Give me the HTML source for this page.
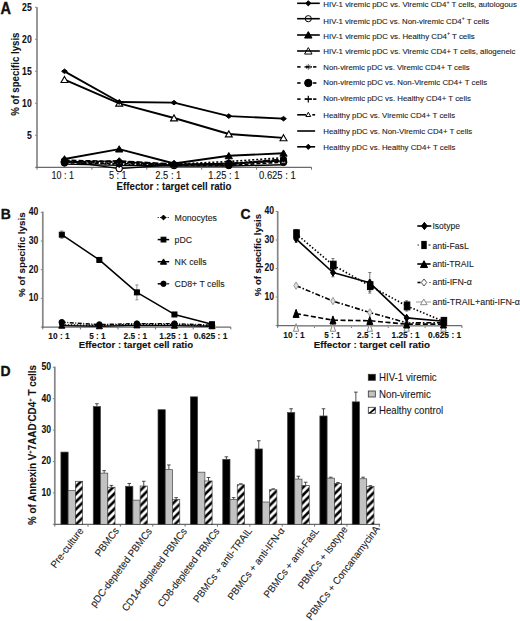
<!DOCTYPE html>
<html><head><meta charset="utf-8"><style>
html,body{margin:0;padding:0;background:#fff;}
svg{display:block;font-family:"Liberation Sans", sans-serif;}
</style></head><body>
<svg width="520" height="621" viewBox="0 0 520 621">
<rect width="520" height="621" fill="#fff"/>
<text transform="translate(0.60,13.60) scale(0.9300,1)" font-size="15.6" font-weight="bold" text-anchor="start" fill="#111" stroke="#111" stroke-width="0.35">A</text>
<line x1="37.00" y1="7.20" x2="37.00" y2="167.90" stroke="#868686" stroke-width="1.7" stroke-linecap="butt"/>
<line x1="35.00" y1="167.30" x2="37.00" y2="167.30" stroke="#868686" stroke-width="1" stroke-linecap="butt"/>
<line x1="35.00" y1="135.30" x2="37.00" y2="135.30" stroke="#868686" stroke-width="1" stroke-linecap="butt"/>
<line x1="35.00" y1="103.30" x2="37.00" y2="103.30" stroke="#868686" stroke-width="1" stroke-linecap="butt"/>
<line x1="35.00" y1="71.30" x2="37.00" y2="71.30" stroke="#868686" stroke-width="1" stroke-linecap="butt"/>
<line x1="35.00" y1="39.30" x2="37.00" y2="39.30" stroke="#868686" stroke-width="1" stroke-linecap="butt"/>
<line x1="35.00" y1="7.30" x2="37.00" y2="7.30" stroke="#868686" stroke-width="1" stroke-linecap="butt"/>
<text transform="translate(31.70,138.70) scale(0.8150,1)" font-size="10.6" font-weight="bold" text-anchor="end" fill="#111" stroke="#111" stroke-width="0.1">5</text>
<text transform="translate(31.70,106.70) scale(0.8150,1)" font-size="10.6" font-weight="bold" text-anchor="end" fill="#111" stroke="#111" stroke-width="0.1">10</text>
<text transform="translate(31.70,74.70) scale(0.8150,1)" font-size="10.6" font-weight="bold" text-anchor="end" fill="#111" stroke="#111" stroke-width="0.1">15</text>
<text transform="translate(31.70,42.70) scale(0.8150,1)" font-size="10.6" font-weight="bold" text-anchor="end" fill="#111" stroke="#111" stroke-width="0.1">20</text>
<text transform="translate(31.70,10.70) scale(0.8150,1)" font-size="10.6" font-weight="bold" text-anchor="end" fill="#111" stroke="#111" stroke-width="0.1">25</text>
<line x1="36.20" y1="167.30" x2="311.50" y2="167.30" stroke="#6a6a6a" stroke-width="1.3" stroke-linecap="butt"/>
<line x1="37.00" y1="167.30" x2="37.00" y2="169.60" stroke="#6a6a6a" stroke-width="1" stroke-linecap="butt"/>
<line x1="91.90" y1="167.30" x2="91.90" y2="169.60" stroke="#6a6a6a" stroke-width="1" stroke-linecap="butt"/>
<line x1="146.80" y1="167.30" x2="146.80" y2="169.60" stroke="#6a6a6a" stroke-width="1" stroke-linecap="butt"/>
<line x1="201.70" y1="167.30" x2="201.70" y2="169.60" stroke="#6a6a6a" stroke-width="1" stroke-linecap="butt"/>
<line x1="256.60" y1="167.30" x2="256.60" y2="169.60" stroke="#6a6a6a" stroke-width="1" stroke-linecap="butt"/>
<line x1="311.50" y1="167.30" x2="311.50" y2="169.60" stroke="#6a6a6a" stroke-width="1" stroke-linecap="butt"/>
<text transform="translate(62.85,178.60) scale(0.8648,1)" font-size="10.4" text-anchor="middle" fill="#111" stroke="#111" stroke-width="0.1">10 : 1</text>
<text transform="translate(117.85,178.60) scale(0.8698,1)" font-size="10.4" text-anchor="middle" fill="#111" stroke="#111" stroke-width="0.1">5 : 1</text>
<text transform="translate(168.30,178.60) scale(0.8994,1)" font-size="10.4" text-anchor="middle" fill="#111" stroke="#111" stroke-width="0.1">2.5 : 1</text>
<text transform="translate(223.80,178.60) scale(0.8936,1)" font-size="10.4" text-anchor="middle" fill="#111" stroke="#111" stroke-width="0.1">1.25 : 1</text>
<text transform="translate(277.35,178.60) scale(0.9068,1)" font-size="10.4" text-anchor="middle" fill="#111" stroke="#111" stroke-width="0.1">0.625 : 1</text>
<text transform="translate(116.60,190.10) scale(0.9167,1)" font-size="10.6" font-weight="bold" text-anchor="start" fill="#111" stroke="#111" stroke-width="0.1">Effector : target cell ratio</text>
<text transform="translate(18.60,115.80) rotate(-90) scale(0.9389,1)" font-size="10.3" font-weight="bold" text-anchor="start" fill="#111" stroke="#111" stroke-width="0.1">% of specific lysis</text>
<polyline points="64.50,160.90 119.20,168.58 174.00,164.74 228.80,163.46 283.50,160.90" fill="none" stroke="#000" stroke-width="1.4" stroke-linejoin="round"/>
<circle cx="64.50" cy="160.90" r="3.1" fill="#fff" stroke="#000" stroke-width="1.1"/>
<circle cx="119.20" cy="168.58" r="3.1" fill="#fff" stroke="#000" stroke-width="1.1"/>
<circle cx="174.00" cy="164.74" r="3.1" fill="#fff" stroke="#000" stroke-width="1.1"/>
<circle cx="228.80" cy="163.46" r="3.1" fill="#fff" stroke="#000" stroke-width="1.1"/>
<circle cx="283.50" cy="160.90" r="3.1" fill="#fff" stroke="#000" stroke-width="1.1"/>
<polyline points="64.50,161.54 119.20,162.18 174.00,164.74 228.80,163.46 283.50,159.62" fill="none" stroke="#000" stroke-width="1.6" stroke-dasharray="3,1.5" stroke-linejoin="round"/>
<g stroke="#333" stroke-width="1.2"><line x1="61.50" y1="161.54" x2="67.50" y2="161.54"/><line x1="64.50" y1="158.54" x2="64.50" y2="164.54"/><line x1="62.40" y1="159.44" x2="66.60" y2="163.64"/><line x1="62.40" y1="163.64" x2="66.60" y2="159.44"/></g>
<g stroke="#333" stroke-width="1.2"><line x1="116.20" y1="162.18" x2="122.20" y2="162.18"/><line x1="119.20" y1="159.18" x2="119.20" y2="165.18"/><line x1="117.10" y1="160.08" x2="121.30" y2="164.28"/><line x1="117.10" y1="164.28" x2="121.30" y2="160.08"/></g>
<g stroke="#333" stroke-width="1.2"><line x1="171.00" y1="164.74" x2="177.00" y2="164.74"/><line x1="174.00" y1="161.74" x2="174.00" y2="167.74"/><line x1="171.90" y1="162.64" x2="176.10" y2="166.84"/><line x1="171.90" y1="166.84" x2="176.10" y2="162.64"/></g>
<g stroke="#333" stroke-width="1.2"><line x1="225.80" y1="163.46" x2="231.80" y2="163.46"/><line x1="228.80" y1="160.46" x2="228.80" y2="166.46"/><line x1="226.70" y1="161.36" x2="230.90" y2="165.56"/><line x1="226.70" y1="165.56" x2="230.90" y2="161.36"/></g>
<g stroke="#333" stroke-width="1.2"><line x1="280.50" y1="159.62" x2="286.50" y2="159.62"/><line x1="283.50" y1="156.62" x2="283.50" y2="162.62"/><line x1="281.40" y1="157.52" x2="285.60" y2="161.72"/><line x1="281.40" y1="161.72" x2="285.60" y2="157.52"/></g>
<polyline points="64.50,162.82 119.20,163.46 174.00,165.38 228.80,165.38 283.50,162.18" fill="none" stroke="#000" stroke-width="1.6" stroke-dasharray="4,2" stroke-linejoin="round"/>
<circle cx="64.50" cy="162.82" r="3.4" fill="#000" stroke="#000" stroke-width="1.0"/>
<circle cx="119.20" cy="163.46" r="3.4" fill="#000" stroke="#000" stroke-width="1.0"/>
<circle cx="174.00" cy="165.38" r="3.4" fill="#000" stroke="#000" stroke-width="1.0"/>
<circle cx="228.80" cy="165.38" r="3.4" fill="#000" stroke="#000" stroke-width="1.0"/>
<circle cx="283.50" cy="162.18" r="3.4" fill="#000" stroke="#000" stroke-width="1.0"/>
<polyline points="64.50,160.90 119.20,164.74 174.00,164.10 228.80,161.54 283.50,157.70" fill="none" stroke="#000" stroke-width="1.6" stroke-dasharray="2,2" stroke-linejoin="round"/>
<g stroke="#000" stroke-width="1.3"><line x1="61.50" y1="160.90" x2="67.50" y2="160.90"/><line x1="64.50" y1="157.90" x2="64.50" y2="163.90"/></g>
<g stroke="#000" stroke-width="1.3"><line x1="116.20" y1="164.74" x2="122.20" y2="164.74"/><line x1="119.20" y1="161.74" x2="119.20" y2="167.74"/></g>
<g stroke="#000" stroke-width="1.3"><line x1="171.00" y1="164.10" x2="177.00" y2="164.10"/><line x1="174.00" y1="161.10" x2="174.00" y2="167.10"/></g>
<g stroke="#000" stroke-width="1.3"><line x1="225.80" y1="161.54" x2="231.80" y2="161.54"/><line x1="228.80" y1="158.54" x2="228.80" y2="164.54"/></g>
<g stroke="#000" stroke-width="1.3"><line x1="280.50" y1="157.70" x2="286.50" y2="157.70"/><line x1="283.50" y1="154.70" x2="283.50" y2="160.70"/></g>
<polyline points="64.50,160.26 119.20,161.54 174.00,165.38 228.80,163.46 283.50,160.90" fill="none" stroke="#000" stroke-width="1.6" stroke-dasharray="5,2" stroke-linejoin="round"/>
<polygon points="64.50,157.76 67.25,162.51 61.75,162.51" fill="#fff" stroke="#000" stroke-width="1" stroke-linejoin="miter"/>
<polygon points="119.20,159.04 121.95,163.79 116.45,163.79" fill="#fff" stroke="#000" stroke-width="1" stroke-linejoin="miter"/>
<polygon points="174.00,162.88 176.75,167.63 171.25,167.63" fill="#fff" stroke="#000" stroke-width="1" stroke-linejoin="miter"/>
<polygon points="228.80,160.96 231.55,165.71 226.05,165.71" fill="#fff" stroke="#000" stroke-width="1" stroke-linejoin="miter"/>
<polygon points="283.50,158.40 286.25,163.15 280.75,163.15" fill="#fff" stroke="#000" stroke-width="1" stroke-linejoin="miter"/>
<polyline points="64.50,164.10 119.20,165.38 174.00,166.02 228.80,166.02 283.50,164.74" fill="none" stroke="#000" stroke-width="1.4" stroke-linejoin="round"/>
<polyline points="64.50,162.18 119.20,160.90 174.00,164.10 228.80,164.74 283.50,158.98" fill="none" stroke="#000" stroke-width="1.6" stroke-dasharray="6,2" stroke-linejoin="round"/>
<polygon points="64.50,158.98 67.70,162.18 64.50,165.38 61.30,162.18" fill="#000" stroke="#000" stroke-width="1.0"/>
<polygon points="119.20,157.70 122.40,160.90 119.20,164.10 116.00,160.90" fill="#000" stroke="#000" stroke-width="1.0"/>
<polygon points="174.00,160.90 177.20,164.10 174.00,167.30 170.80,164.10" fill="#000" stroke="#000" stroke-width="1.0"/>
<polygon points="228.80,161.54 232.00,164.74 228.80,167.94 225.60,164.74" fill="#000" stroke="#000" stroke-width="1.0"/>
<polygon points="283.50,155.78 286.70,158.98 283.50,162.18 280.30,158.98" fill="#000" stroke="#000" stroke-width="1.0"/>
<polyline points="64.50,158.98 119.20,149.06 174.00,163.46 228.80,155.78 283.50,153.22" fill="none" stroke="#000" stroke-width="1.9" stroke-linejoin="round"/>
<polygon points="64.50,155.68 68.13,161.95 60.87,161.95" fill="#000" stroke="#000" stroke-width="1.0" stroke-linejoin="miter"/>
<polygon points="119.20,145.76 122.83,152.03 115.57,152.03" fill="#000" stroke="#000" stroke-width="1.0" stroke-linejoin="miter"/>
<polygon points="174.00,160.16 177.63,166.43 170.37,166.43" fill="#000" stroke="#000" stroke-width="1.0" stroke-linejoin="miter"/>
<polygon points="228.80,152.48 232.43,158.75 225.17,158.75" fill="#000" stroke="#000" stroke-width="1.0" stroke-linejoin="miter"/>
<polygon points="283.50,149.92 287.13,156.19 279.87,156.19" fill="#000" stroke="#000" stroke-width="1.0" stroke-linejoin="miter"/>
<polyline points="64.50,79.62 119.20,103.30 174.00,118.02 228.80,134.02 283.50,137.86" fill="none" stroke="#000" stroke-width="1.9" stroke-linejoin="round"/>
<polygon points="64.50,76.47 67.97,82.45 61.03,82.45" fill="#fff" stroke="#000" stroke-width="1.1" stroke-linejoin="miter"/>
<polygon points="119.20,100.15 122.67,106.14 115.73,106.14" fill="#fff" stroke="#000" stroke-width="1.1" stroke-linejoin="miter"/>
<polygon points="174.00,114.87 177.47,120.86 170.53,120.86" fill="#fff" stroke="#000" stroke-width="1.1" stroke-linejoin="miter"/>
<polygon points="228.80,130.87 232.27,136.86 225.34,136.86" fill="#fff" stroke="#000" stroke-width="1.1" stroke-linejoin="miter"/>
<polygon points="283.50,134.71 286.96,140.70 280.04,140.70" fill="#fff" stroke="#000" stroke-width="1.1" stroke-linejoin="miter"/>
<polyline points="64.50,71.30 119.20,102.02 174.00,102.66 228.80,116.10 283.50,118.66" fill="none" stroke="#000" stroke-width="1.9" stroke-linejoin="round"/>
<polygon points="64.50,69.02 67.36,71.30 64.50,73.58 61.64,71.30" fill="#000" stroke="#000" stroke-width="1.0"/>
<polygon points="119.20,99.74 122.06,102.02 119.20,104.30 116.34,102.02" fill="#000" stroke="#000" stroke-width="1.0"/>
<polygon points="174.00,100.38 176.86,102.66 174.00,104.94 171.14,102.66" fill="#000" stroke="#000" stroke-width="1.0"/>
<polygon points="228.80,113.82 231.66,116.10 228.80,118.38 225.94,116.10" fill="#000" stroke="#000" stroke-width="1.0"/>
<polygon points="283.50,116.38 286.36,118.66 283.50,120.94 280.64,118.66" fill="#000" stroke="#000" stroke-width="1.0"/>
<line x1="297.10" y1="3.30" x2="319.80" y2="3.30" stroke="#000" stroke-width="1.6" stroke-linecap="butt"/>
<polygon points="308.30,0.70 310.90,3.30 308.30,5.90 305.70,3.30" fill="#000" stroke="#000" stroke-width="1.0"/>
<text transform="translate(323.30,7.00) scale(0.9977,1)" font-size="7.9" text-anchor="start" fill="#1a1a1a" stroke="#1a1a1a" stroke-width="0.1">HIV-1 viremic pDC vs. Viremic CD4<tspan font-size="5.2" dy="-3.2">+</tspan><tspan dy="3.2"> T cells, autologous</tspan></text>
<line x1="297.10" y1="18.70" x2="319.80" y2="18.70" stroke="#000" stroke-width="1.6" stroke-linecap="butt"/>
<circle cx="308.30" cy="18.70" r="3.1" fill="none" stroke="#000" stroke-width="1.0"/>
<text transform="translate(323.30,23.60) scale(0.9925,1)" font-size="7.9" text-anchor="start" fill="#1a1a1a" stroke="#1a1a1a" stroke-width="0.1">HIV-1 viremic pDC vs. Non-viremic CD4<tspan font-size="5.2" dy="-3.2">+</tspan><tspan dy="3.2"> T cells</tspan></text>
<line x1="297.10" y1="35.00" x2="319.80" y2="35.00" stroke="#000" stroke-width="1.6" stroke-linecap="butt"/>
<polygon points="308.30,31.60 312.04,38.06 304.56,38.06" fill="#000" stroke="#000" stroke-width="1.0" stroke-linejoin="miter"/>
<text transform="translate(323.30,38.60) scale(0.9974,1)" font-size="7.9" text-anchor="start" fill="#1a1a1a" stroke="#1a1a1a" stroke-width="0.1">HIV-1 viremic pDC vs. Healthy CD4<tspan font-size="5.2" dy="-3.2">+</tspan><tspan dy="3.2"> T cells</tspan></text>
<line x1="297.10" y1="51.00" x2="319.80" y2="51.00" stroke="#000" stroke-width="1.6" stroke-linecap="butt"/>
<polygon points="308.30,47.60 312.04,54.06 304.56,54.06" fill="none" stroke="#000" stroke-width="1.0" stroke-linejoin="miter"/>
<text transform="translate(323.30,54.30) scale(0.9987,1)" font-size="7.9" text-anchor="start" fill="#1a1a1a" stroke="#1a1a1a" stroke-width="0.1">HIV-1 viremic pDC vs. Viremic CD4+ T cells, allogeneic</text>
<line x1="297.20" y1="66.90" x2="300.60" y2="66.90" stroke="#000" stroke-width="1.6" stroke-linecap="butt"/>
<line x1="313.10" y1="66.90" x2="316.40" y2="66.90" stroke="#000" stroke-width="1.6" stroke-linecap="butt"/>
<line x1="304.50" y1="66.90" x2="312.00" y2="66.90" stroke="#000" stroke-width="1.4" stroke-linecap="butt"/>
<g stroke="#666" stroke-width="1.0"><line x1="305.30" y1="66.90" x2="311.30" y2="66.90"/><line x1="308.30" y1="63.90" x2="308.30" y2="69.90"/><line x1="306.20" y1="64.80" x2="310.40" y2="69.00"/><line x1="306.20" y1="69.00" x2="310.40" y2="64.80"/></g>
<line x1="306.00" y1="66.90" x2="309.00" y2="66.90" stroke="#000" stroke-width="1.6" stroke-linecap="butt"/>
<text transform="translate(323.30,70.10) scale(0.9895,1)" font-size="7.9" text-anchor="start" fill="#1a1a1a" stroke="#1a1a1a" stroke-width="0.1">Non-viremic pDC vs. Viremic CD4+ T cells</text>
<line x1="297.20" y1="83.00" x2="300.60" y2="83.00" stroke="#000" stroke-width="1.6" stroke-linecap="butt"/>
<line x1="313.10" y1="83.00" x2="316.40" y2="83.00" stroke="#000" stroke-width="1.6" stroke-linecap="butt"/>
<circle cx="308.30" cy="83.00" r="3.7" fill="#000" stroke="#000" stroke-width="1.0"/>
<text transform="translate(323.30,85.00) scale(0.9929,1)" font-size="7.9" text-anchor="start" fill="#1a1a1a" stroke="#1a1a1a" stroke-width="0.1">Non-viremic pDC vs. Non-Viremic CD4+ T cells</text>
<line x1="297.20" y1="99.10" x2="300.60" y2="99.10" stroke="#000" stroke-width="1.6" stroke-linecap="butt"/>
<line x1="313.10" y1="99.10" x2="316.40" y2="99.10" stroke="#000" stroke-width="1.6" stroke-linecap="butt"/>
<line x1="304.50" y1="99.10" x2="312.00" y2="99.10" stroke="#000" stroke-width="1.4" stroke-linecap="butt"/>
<g stroke="#000" stroke-width="1.2"><line x1="305.00" y1="99.10" x2="311.60" y2="99.10"/><line x1="308.30" y1="95.80" x2="308.30" y2="102.40"/></g>
<text transform="translate(323.30,101.30) scale(0.9936,1)" font-size="7.9" text-anchor="start" fill="#1a1a1a" stroke="#1a1a1a" stroke-width="0.1">Non-viremic pDC vs. Healthy CD4+ T cells</text>
<line x1="297.20" y1="114.80" x2="306.00" y2="114.80" stroke="#000" stroke-width="1.6" stroke-linecap="butt"/>
<line x1="312.30" y1="114.80" x2="315.10" y2="114.80" stroke="#000" stroke-width="1.6" stroke-linecap="butt"/>
<polygon points="308.30,112.30 310.72,116.48 305.88,116.48" fill="#fff" stroke="#000" stroke-width="1.0" stroke-linejoin="miter"/>
<text transform="translate(323.30,118.10) scale(0.9947,1)" font-size="7.9" text-anchor="start" fill="#1a1a1a" stroke="#1a1a1a" stroke-width="0.1">Healthy pDC vs. Viremic CD4+ T cells</text>
<line x1="297.20" y1="131.00" x2="315.10" y2="131.00" stroke="#000" stroke-width="1.6" stroke-linecap="butt"/>
<text transform="translate(323.30,133.50) scale(0.9945,1)" font-size="7.9" text-anchor="start" fill="#1a1a1a" stroke="#1a1a1a" stroke-width="0.1">Healthy pDC vs. Non-Viremic CD4+ T cells</text>
<line x1="297.20" y1="146.80" x2="315.10" y2="146.80" stroke="#000" stroke-width="1.6" stroke-linecap="butt"/>
<polygon points="308.30,144.20 310.90,146.80 308.30,149.40 305.70,146.80" fill="#000" stroke="#000" stroke-width="1.0"/>
<text transform="translate(323.30,150.30) scale(0.9903,1)" font-size="7.9" text-anchor="start" fill="#1a1a1a" stroke="#1a1a1a" stroke-width="0.1">Healthy pDC vs. Healthy CD4+ T cells</text>
<text transform="translate(0.80,218.80) scale(0.9300,1)" font-size="15.0" font-weight="bold" text-anchor="start" fill="#111" stroke="#111" stroke-width="0.35">B</text>
<line x1="42.80" y1="211.60" x2="42.80" y2="327.70" stroke="#868686" stroke-width="1.7" stroke-linecap="butt"/>
<line x1="40.80" y1="327.10" x2="42.80" y2="327.10" stroke="#868686" stroke-width="1" stroke-linecap="butt"/>
<line x1="40.80" y1="298.40" x2="42.80" y2="298.40" stroke="#868686" stroke-width="1" stroke-linecap="butt"/>
<line x1="40.80" y1="269.70" x2="42.80" y2="269.70" stroke="#868686" stroke-width="1" stroke-linecap="butt"/>
<line x1="40.80" y1="241.00" x2="42.80" y2="241.00" stroke="#868686" stroke-width="1" stroke-linecap="butt"/>
<line x1="40.80" y1="212.30" x2="42.80" y2="212.30" stroke="#868686" stroke-width="1" stroke-linecap="butt"/>
<text transform="translate(38.40,301.20) scale(0.8150,1)" font-size="10.6" font-weight="bold" text-anchor="end" fill="#111" stroke="#111" stroke-width="0.1">10</text>
<text transform="translate(38.40,272.50) scale(0.8150,1)" font-size="10.6" font-weight="bold" text-anchor="end" fill="#111" stroke="#111" stroke-width="0.1">20</text>
<text transform="translate(38.40,243.80) scale(0.8150,1)" font-size="10.6" font-weight="bold" text-anchor="end" fill="#111" stroke="#111" stroke-width="0.1">30</text>
<text transform="translate(38.40,215.10) scale(0.8150,1)" font-size="10.6" font-weight="bold" text-anchor="end" fill="#111" stroke="#111" stroke-width="0.1">40</text>
<line x1="42.00" y1="327.10" x2="230.80" y2="327.10" stroke="#6a6a6a" stroke-width="1.3" stroke-linecap="butt"/>
<line x1="42.80" y1="327.10" x2="42.80" y2="329.40" stroke="#6a6a6a" stroke-width="1" stroke-linecap="butt"/>
<line x1="80.40" y1="327.10" x2="80.40" y2="329.40" stroke="#6a6a6a" stroke-width="1" stroke-linecap="butt"/>
<line x1="118.00" y1="327.10" x2="118.00" y2="329.40" stroke="#6a6a6a" stroke-width="1" stroke-linecap="butt"/>
<line x1="155.60" y1="327.10" x2="155.60" y2="329.40" stroke="#6a6a6a" stroke-width="1" stroke-linecap="butt"/>
<line x1="193.20" y1="327.10" x2="193.20" y2="329.40" stroke="#6a6a6a" stroke-width="1" stroke-linecap="butt"/>
<line x1="230.80" y1="327.10" x2="230.80" y2="329.40" stroke="#6a6a6a" stroke-width="1" stroke-linecap="butt"/>
<text transform="translate(59.00,338.60) scale(0.9300,1)" font-size="9.0" font-weight="bold" text-anchor="middle" fill="#111" stroke="#111" stroke-width="0.1">10 : 1</text>
<text transform="translate(97.40,338.60) scale(0.9108,1)" font-size="9.0" font-weight="bold" text-anchor="middle" fill="#111" stroke="#111" stroke-width="0.1">5 : 1</text>
<text transform="translate(135.30,338.60) scale(0.9250,1)" font-size="9.0" font-weight="bold" text-anchor="middle" fill="#111" stroke="#111" stroke-width="0.1">2.5 : 1</text>
<text transform="translate(173.50,338.60) scale(0.9306,1)" font-size="9.0" font-weight="bold" text-anchor="middle" fill="#111" stroke="#111" stroke-width="0.1">1.25 : 1</text>
<text transform="translate(210.70,338.60) scale(0.9487,1)" font-size="9.0" font-weight="bold" text-anchor="middle" fill="#111" stroke="#111" stroke-width="0.1">0.625 : 1</text>
<text transform="translate(78.70,348.00) scale(1.0301,1)" font-size="9.4" font-weight="bold" text-anchor="start" fill="#111" stroke="#111" stroke-width="0.1">Effector : target cell ratio</text>
<text transform="translate(25.30,296.90) rotate(-90) scale(1.0448,1)" font-size="9.4" font-weight="bold" text-anchor="start" fill="#111" stroke="#111" stroke-width="0.1">% of specific lysis</text>
<polyline points="61.80,325.67 99.35,326.24 136.90,325.38 174.45,325.67 212.00,326.24" fill="none" stroke="#000" stroke-width="1.4" stroke-linejoin="round"/>
<polygon points="61.80,322.87 64.88,328.19 58.72,328.19" fill="#000" stroke="#000" stroke-width="1.0" stroke-linejoin="miter"/>
<polygon points="99.35,323.44 102.43,328.76 96.27,328.76" fill="#000" stroke="#000" stroke-width="1.0" stroke-linejoin="miter"/>
<polygon points="136.90,322.58 139.98,327.90 133.82,327.90" fill="#000" stroke="#000" stroke-width="1.0" stroke-linejoin="miter"/>
<polygon points="174.45,322.87 177.53,328.19 171.37,328.19" fill="#000" stroke="#000" stroke-width="1.0" stroke-linejoin="miter"/>
<polygon points="212.00,323.44 215.08,328.76 208.92,328.76" fill="#000" stroke="#000" stroke-width="1.0" stroke-linejoin="miter"/>
<polyline points="61.80,324.80 99.35,325.38 136.90,324.23 174.45,324.52 212.00,325.95" fill="none" stroke="#000" stroke-width="1.4" stroke-dasharray="1.5,1.5" stroke-linejoin="round"/>
<polygon points="61.80,322.20 64.40,324.80 61.80,327.40 59.20,324.80" fill="#000" stroke="#000" stroke-width="1.0"/>
<polygon points="99.35,322.78 101.95,325.38 99.35,327.98 96.75,325.38" fill="#000" stroke="#000" stroke-width="1.0"/>
<polygon points="136.90,321.63 139.50,324.23 136.90,326.83 134.30,324.23" fill="#000" stroke="#000" stroke-width="1.0"/>
<polygon points="174.45,321.92 177.05,324.52 174.45,327.12 171.85,324.52" fill="#000" stroke="#000" stroke-width="1.0"/>
<polygon points="212.00,323.35 214.60,325.95 212.00,328.55 209.40,325.95" fill="#000" stroke="#000" stroke-width="1.0"/>
<polyline points="61.80,322.22 99.35,324.52 136.90,323.66 174.45,323.66 212.00,325.09" fill="none" stroke="#000" stroke-width="1.4" stroke-dasharray="4,1.5,1,1.5" stroke-linejoin="round"/>
<circle cx="61.80" cy="322.22" r="2.8" fill="#000" stroke="#000" stroke-width="1.0"/>
<circle cx="99.35" cy="324.52" r="2.8" fill="#000" stroke="#000" stroke-width="1.0"/>
<circle cx="136.90" cy="323.66" r="2.8" fill="#000" stroke="#000" stroke-width="1.0"/>
<circle cx="174.45" cy="323.66" r="2.8" fill="#000" stroke="#000" stroke-width="1.0"/>
<circle cx="212.00" cy="325.09" r="2.8" fill="#000" stroke="#000" stroke-width="1.0"/>
<line x1="61.80" y1="230.96" x2="61.80" y2="238.42" stroke="#777" stroke-width="0.8" stroke-linecap="butt"/>
<line x1="60.30" y1="230.96" x2="63.30" y2="230.96" stroke="#777" stroke-width="0.8" stroke-linecap="butt"/>
<line x1="60.30" y1="238.42" x2="63.30" y2="238.42" stroke="#777" stroke-width="0.8" stroke-linecap="butt"/>
<line x1="99.35" y1="258.51" x2="99.35" y2="261.38" stroke="#777" stroke-width="0.8" stroke-linecap="butt"/>
<line x1="97.85" y1="258.51" x2="100.85" y2="258.51" stroke="#777" stroke-width="0.8" stroke-linecap="butt"/>
<line x1="97.85" y1="261.38" x2="100.85" y2="261.38" stroke="#777" stroke-width="0.8" stroke-linecap="butt"/>
<line x1="136.90" y1="284.91" x2="136.90" y2="299.84" stroke="#777" stroke-width="0.8" stroke-linecap="butt"/>
<line x1="135.40" y1="284.91" x2="138.40" y2="284.91" stroke="#777" stroke-width="0.8" stroke-linecap="butt"/>
<line x1="135.40" y1="299.84" x2="138.40" y2="299.84" stroke="#777" stroke-width="0.8" stroke-linecap="butt"/>
<line x1="174.45" y1="313.61" x2="174.45" y2="315.33" stroke="#777" stroke-width="0.8" stroke-linecap="butt"/>
<line x1="172.95" y1="313.61" x2="175.95" y2="313.61" stroke="#777" stroke-width="0.8" stroke-linecap="butt"/>
<line x1="172.95" y1="315.33" x2="175.95" y2="315.33" stroke="#777" stroke-width="0.8" stroke-linecap="butt"/>
<line x1="212.00" y1="323.66" x2="212.00" y2="324.80" stroke="#777" stroke-width="0.8" stroke-linecap="butt"/>
<line x1="210.50" y1="323.66" x2="213.50" y2="323.66" stroke="#777" stroke-width="0.8" stroke-linecap="butt"/>
<line x1="210.50" y1="324.80" x2="213.50" y2="324.80" stroke="#777" stroke-width="0.8" stroke-linecap="butt"/>
<polyline points="61.80,234.69 99.35,259.94 136.90,292.37 174.45,314.47 212.00,324.23" fill="none" stroke="#000" stroke-width="1.5" stroke-linejoin="round"/>
<rect x="59.30" y="232.19" width="5.00" height="5.00" fill="#000" stroke="#000" stroke-width="1.0"/>
<rect x="96.85" y="257.44" width="5.00" height="5.00" fill="#000" stroke="#000" stroke-width="1.0"/>
<rect x="134.40" y="289.87" width="5.00" height="5.00" fill="#000" stroke="#000" stroke-width="1.0"/>
<rect x="171.95" y="311.97" width="5.00" height="5.00" fill="#000" stroke="#000" stroke-width="1.0"/>
<rect x="209.50" y="321.73" width="5.00" height="5.00" fill="#000" stroke="#000" stroke-width="1.0"/>
<line x1="157.70" y1="217.50" x2="169.20" y2="217.50" stroke="#000" stroke-width="1.1" stroke-dasharray="1,1.5" stroke-linecap="butt"/>
<polygon points="163.50,215.10 165.90,217.50 163.50,219.90 161.10,217.50" fill="#000" stroke="#000" stroke-width="1.0"/>
<text transform="translate(174.60,221.20) scale(0.9307,1)" font-size="9.4" text-anchor="start" fill="#1a1a1a" stroke="#1a1a1a" stroke-width="0.1">Monocytes</text>
<line x1="157.70" y1="239.60" x2="169.20" y2="239.60" stroke="#000" stroke-width="1.5" stroke-linecap="butt"/>
<rect x="161.10" y="237.20" width="4.80" height="4.80" fill="#000" stroke="#000" stroke-width="1.0"/>
<text transform="translate(174.60,243.20) scale(0.9306,1)" font-size="9.4" text-anchor="start" fill="#1a1a1a" stroke="#1a1a1a" stroke-width="0.1">pDC</text>
<line x1="157.70" y1="261.70" x2="169.20" y2="261.70" stroke="#000" stroke-width="1.5" stroke-linecap="butt"/>
<polygon points="163.50,258.90 166.58,264.22 160.42,264.22" fill="#000" stroke="#000" stroke-width="1.0" stroke-linejoin="miter"/>
<text transform="translate(174.60,265.30) scale(0.9311,1)" font-size="9.4" text-anchor="start" fill="#1a1a1a" stroke="#1a1a1a" stroke-width="0.1">NK cells</text>
<line x1="157.70" y1="283.80" x2="161.00" y2="283.80" stroke="#000" stroke-width="1.5" stroke-linecap="butt"/>
<line x1="167.00" y1="283.80" x2="169.20" y2="283.80" stroke="#000" stroke-width="1.1" stroke-linecap="butt"/>
<circle cx="163.50" cy="283.80" r="2.7" fill="#000" stroke="#000" stroke-width="1.0"/>
<text transform="translate(174.60,287.40) scale(0.9307,1)" font-size="9.4" text-anchor="start" fill="#1a1a1a" stroke="#1a1a1a" stroke-width="0.1">CD8+ T cells</text>
<text transform="translate(240.40,219.00) scale(0.9300,1)" font-size="15.0" font-weight="bold" text-anchor="start" fill="#111" stroke="#111" stroke-width="0.35">C</text>
<line x1="277.70" y1="211.20" x2="277.70" y2="326.20" stroke="#868686" stroke-width="1.7" stroke-linecap="butt"/>
<line x1="275.70" y1="325.60" x2="277.70" y2="325.60" stroke="#868686" stroke-width="1" stroke-linecap="butt"/>
<line x1="275.70" y1="297.07" x2="277.70" y2="297.07" stroke="#868686" stroke-width="1" stroke-linecap="butt"/>
<line x1="275.70" y1="268.54" x2="277.70" y2="268.54" stroke="#868686" stroke-width="1" stroke-linecap="butt"/>
<line x1="275.70" y1="240.01" x2="277.70" y2="240.01" stroke="#868686" stroke-width="1" stroke-linecap="butt"/>
<line x1="275.70" y1="211.48" x2="277.70" y2="211.48" stroke="#868686" stroke-width="1" stroke-linecap="butt"/>
<text transform="translate(274.00,299.87) scale(0.8150,1)" font-size="10.6" font-weight="bold" text-anchor="end" fill="#111" stroke="#111" stroke-width="0.1">10</text>
<text transform="translate(274.00,271.34) scale(0.8150,1)" font-size="10.6" font-weight="bold" text-anchor="end" fill="#111" stroke="#111" stroke-width="0.1">20</text>
<text transform="translate(274.00,242.81) scale(0.8150,1)" font-size="10.6" font-weight="bold" text-anchor="end" fill="#111" stroke="#111" stroke-width="0.1">30</text>
<text transform="translate(274.00,214.28) scale(0.8150,1)" font-size="10.6" font-weight="bold" text-anchor="end" fill="#111" stroke="#111" stroke-width="0.1">40</text>
<line x1="276.90" y1="325.60" x2="461.80" y2="325.60" stroke="#6a6a6a" stroke-width="1.3" stroke-linecap="butt"/>
<line x1="277.70" y1="325.60" x2="277.70" y2="327.90" stroke="#6a6a6a" stroke-width="1" stroke-linecap="butt"/>
<line x1="314.55" y1="325.60" x2="314.55" y2="327.90" stroke="#6a6a6a" stroke-width="1" stroke-linecap="butt"/>
<line x1="351.40" y1="325.60" x2="351.40" y2="327.90" stroke="#6a6a6a" stroke-width="1" stroke-linecap="butt"/>
<line x1="388.25" y1="325.60" x2="388.25" y2="327.90" stroke="#6a6a6a" stroke-width="1" stroke-linecap="butt"/>
<line x1="425.10" y1="325.60" x2="425.10" y2="327.90" stroke="#6a6a6a" stroke-width="1" stroke-linecap="butt"/>
<line x1="461.95" y1="325.60" x2="461.95" y2="327.90" stroke="#6a6a6a" stroke-width="1" stroke-linecap="butt"/>
<text transform="translate(294.00,337.50) scale(0.9300,1)" font-size="9.0" font-weight="bold" text-anchor="middle" fill="#111" stroke="#111" stroke-width="0.1">10 : 1</text>
<text transform="translate(332.30,337.50) scale(0.8996,1)" font-size="9.0" font-weight="bold" text-anchor="middle" fill="#111" stroke="#111" stroke-width="0.1">5 : 1</text>
<text transform="translate(368.80,337.50) scale(0.9172,1)" font-size="9.0" font-weight="bold" text-anchor="middle" fill="#111" stroke="#111" stroke-width="0.1">2.5 : 1</text>
<text transform="translate(405.60,337.50) scale(0.9241,1)" font-size="9.0" font-weight="bold" text-anchor="middle" fill="#111" stroke="#111" stroke-width="0.1">1.25 : 1</text>
<text transform="translate(444.60,337.50) scale(0.9346,1)" font-size="9.0" font-weight="bold" text-anchor="middle" fill="#111" stroke="#111" stroke-width="0.1">0.625 : 1</text>
<text transform="translate(313.80,347.70) scale(1.0427,1)" font-size="9.4" font-weight="bold" text-anchor="start" fill="#111" stroke="#111" stroke-width="0.1">Effector : target cell ratio</text>
<text transform="translate(261.00,296.20) rotate(-90) scale(1.0164,1)" font-size="9.4" font-weight="bold" text-anchor="start" fill="#111" stroke="#111" stroke-width="0.1">% of specific lysis</text>
<polyline points="296.10,326.17 332.95,326.17 369.80,326.17 406.65,326.17 443.50,326.17" fill="none" stroke="#aaa" stroke-width="1.2" stroke-linejoin="round"/>
<polygon points="296.10,323.70 298.76,331.25 293.44,331.25" fill="#fff" stroke="#888" stroke-width="1" stroke-linejoin="miter"/>
<polygon points="332.95,323.70 335.61,331.25 330.29,331.25" fill="#fff" stroke="#888" stroke-width="1" stroke-linejoin="miter"/>
<polygon points="369.80,323.70 372.46,331.25 367.14,331.25" fill="#fff" stroke="#888" stroke-width="1" stroke-linejoin="miter"/>
<polygon points="406.65,323.70 409.31,331.25 403.99,331.25" fill="#fff" stroke="#888" stroke-width="1" stroke-linejoin="miter"/>
<polygon points="443.50,323.70 446.16,331.25 440.84,331.25" fill="#fff" stroke="#888" stroke-width="1" stroke-linejoin="miter"/>
<polyline points="296.10,285.66 332.95,301.06 369.80,312.48 406.65,322.75 443.50,322.75" fill="none" stroke="#000" stroke-width="1.6" stroke-dasharray="5,2,1.5,2" stroke-linejoin="round"/>
<polygon points="296.10,281.94 298.36,285.66 296.10,289.38 293.84,285.66" fill="#e0e0e0" stroke="#999" stroke-width="1"/>
<polygon points="332.95,297.35 335.21,301.06 332.95,304.78 330.69,301.06" fill="#e0e0e0" stroke="#999" stroke-width="1"/>
<polygon points="369.80,308.76 372.06,312.48 369.80,316.19 367.54,312.48" fill="#e0e0e0" stroke="#999" stroke-width="1"/>
<polygon points="406.65,319.03 408.91,322.75 406.65,326.46 404.39,322.75" fill="#e0e0e0" stroke="#999" stroke-width="1"/>
<polygon points="443.50,319.03 445.76,322.75 443.50,326.46 441.24,322.75" fill="#e0e0e0" stroke="#999" stroke-width="1"/>
<polyline points="296.10,313.62 332.95,320.18 369.80,320.75 406.65,324.17 443.50,324.17" fill="none" stroke="#000" stroke-width="1.6" stroke-dasharray="5,2.5" stroke-linejoin="round"/>
<polygon points="296.10,309.37 299.09,317.44 293.11,317.44" fill="#000" stroke="#000" stroke-width="1.0" stroke-linejoin="miter"/>
<polygon points="332.95,315.93 335.94,324.00 329.96,324.00" fill="#000" stroke="#000" stroke-width="1.0" stroke-linejoin="miter"/>
<polygon points="369.80,316.50 372.79,324.57 366.81,324.57" fill="#000" stroke="#000" stroke-width="1.0" stroke-linejoin="miter"/>
<polygon points="406.65,319.92 409.64,328.00 403.66,328.00" fill="#000" stroke="#000" stroke-width="1.0" stroke-linejoin="miter"/>
<polygon points="443.50,319.92 446.49,328.00 440.51,328.00" fill="#000" stroke="#000" stroke-width="1.0" stroke-linejoin="miter"/>
<line x1="296.10" y1="229.45" x2="296.10" y2="238.01" stroke="#555" stroke-width="0.8" stroke-linecap="butt"/>
<line x1="294.60" y1="229.45" x2="297.60" y2="229.45" stroke="#555" stroke-width="0.8" stroke-linecap="butt"/>
<line x1="294.60" y1="238.01" x2="297.60" y2="238.01" stroke="#555" stroke-width="0.8" stroke-linecap="butt"/>
<line x1="332.95" y1="258.55" x2="332.95" y2="271.68" stroke="#555" stroke-width="0.8" stroke-linecap="butt"/>
<line x1="331.45" y1="258.55" x2="334.45" y2="258.55" stroke="#555" stroke-width="0.8" stroke-linecap="butt"/>
<line x1="331.45" y1="271.68" x2="334.45" y2="271.68" stroke="#555" stroke-width="0.8" stroke-linecap="butt"/>
<line x1="369.80" y1="279.95" x2="369.80" y2="291.36" stroke="#555" stroke-width="0.8" stroke-linecap="butt"/>
<line x1="368.30" y1="279.95" x2="371.30" y2="279.95" stroke="#555" stroke-width="0.8" stroke-linecap="butt"/>
<line x1="368.30" y1="291.36" x2="371.30" y2="291.36" stroke="#555" stroke-width="0.8" stroke-linecap="butt"/>
<line x1="406.65" y1="300.78" x2="406.65" y2="311.05" stroke="#555" stroke-width="0.8" stroke-linecap="butt"/>
<line x1="405.15" y1="300.78" x2="408.15" y2="300.78" stroke="#555" stroke-width="0.8" stroke-linecap="butt"/>
<line x1="405.15" y1="311.05" x2="408.15" y2="311.05" stroke="#555" stroke-width="0.8" stroke-linecap="butt"/>
<line x1="443.50" y1="320.46" x2="443.50" y2="322.18" stroke="#555" stroke-width="0.8" stroke-linecap="butt"/>
<line x1="442.00" y1="320.46" x2="445.00" y2="320.46" stroke="#555" stroke-width="0.8" stroke-linecap="butt"/>
<line x1="442.00" y1="322.18" x2="445.00" y2="322.18" stroke="#555" stroke-width="0.8" stroke-linecap="butt"/>
<line x1="296.10" y1="235.45" x2="296.10" y2="242.29" stroke="#555" stroke-width="0.8" stroke-linecap="butt"/>
<line x1="294.60" y1="235.45" x2="297.60" y2="235.45" stroke="#555" stroke-width="0.8" stroke-linecap="butt"/>
<line x1="294.60" y1="242.29" x2="297.60" y2="242.29" stroke="#555" stroke-width="0.8" stroke-linecap="butt"/>
<line x1="332.95" y1="268.25" x2="332.95" y2="276.81" stroke="#555" stroke-width="0.8" stroke-linecap="butt"/>
<line x1="331.45" y1="268.25" x2="334.45" y2="268.25" stroke="#555" stroke-width="0.8" stroke-linecap="butt"/>
<line x1="331.45" y1="276.81" x2="334.45" y2="276.81" stroke="#555" stroke-width="0.8" stroke-linecap="butt"/>
<line x1="369.80" y1="272.53" x2="369.80" y2="293.08" stroke="#555" stroke-width="0.8" stroke-linecap="butt"/>
<line x1="368.30" y1="272.53" x2="371.30" y2="272.53" stroke="#555" stroke-width="0.8" stroke-linecap="butt"/>
<line x1="368.30" y1="293.08" x2="371.30" y2="293.08" stroke="#555" stroke-width="0.8" stroke-linecap="butt"/>
<line x1="406.65" y1="316.47" x2="406.65" y2="319.32" stroke="#555" stroke-width="0.8" stroke-linecap="butt"/>
<line x1="405.15" y1="316.47" x2="408.15" y2="316.47" stroke="#555" stroke-width="0.8" stroke-linecap="butt"/>
<line x1="405.15" y1="319.32" x2="408.15" y2="319.32" stroke="#555" stroke-width="0.8" stroke-linecap="butt"/>
<line x1="443.50" y1="320.46" x2="443.50" y2="322.18" stroke="#555" stroke-width="0.8" stroke-linecap="butt"/>
<line x1="442.00" y1="320.46" x2="445.00" y2="320.46" stroke="#555" stroke-width="0.8" stroke-linecap="butt"/>
<line x1="442.00" y1="322.18" x2="445.00" y2="322.18" stroke="#555" stroke-width="0.8" stroke-linecap="butt"/>
<polyline points="296.10,233.73 332.95,265.12 369.80,285.66 406.65,305.91 443.50,321.32" fill="none" stroke="#000" stroke-width="1.6" stroke-dasharray="1.5,2" stroke-linejoin="round"/>
<rect x="293.73" y="229.80" width="5.54" height="7.86" fill="#000" stroke="#000" stroke-width="1.0"/>
<rect x="330.58" y="261.19" width="5.54" height="7.86" fill="#000" stroke="#000" stroke-width="1.0"/>
<rect x="367.43" y="281.73" width="5.54" height="7.86" fill="#000" stroke="#000" stroke-width="1.0"/>
<rect x="404.28" y="301.99" width="5.54" height="7.86" fill="#000" stroke="#000" stroke-width="1.0"/>
<rect x="441.13" y="317.39" width="5.54" height="7.86" fill="#000" stroke="#000" stroke-width="1.0"/>
<polyline points="296.10,238.87 332.95,272.53 369.80,282.81 406.65,317.90 443.50,321.32" fill="none" stroke="#000" stroke-width="1.6" stroke-linejoin="round"/>
<polygon points="296.10,235.21 298.56,238.87 296.10,242.53 293.64,238.87" fill="#000" stroke="#000" stroke-width="1.0"/>
<polygon points="332.95,268.88 335.41,272.53 332.95,276.19 330.49,272.53" fill="#000" stroke="#000" stroke-width="1.0"/>
<polygon points="369.80,279.15 372.26,282.81 369.80,286.46 367.34,282.81" fill="#000" stroke="#000" stroke-width="1.0"/>
<polygon points="406.65,314.24 409.11,317.90 406.65,321.56 404.19,317.90" fill="#000" stroke="#000" stroke-width="1.0"/>
<polygon points="443.50,317.66 445.96,321.32 443.50,324.98 441.04,321.32" fill="#000" stroke="#000" stroke-width="1.0"/>
<line x1="417.30" y1="226.00" x2="431.30" y2="226.00" stroke="#000" stroke-width="1.6" stroke-linecap="butt"/>
<polygon points="424.40,222.36 427.22,226.00 424.40,229.64 421.58,226.00" fill="#000" stroke="#000" stroke-width="1.0"/>
<text transform="translate(432.50,229.00) scale(0.9172,1)" font-size="9.3" text-anchor="start" fill="#1a1a1a" stroke="#1a1a1a" stroke-width="0.1">Isotype</text>
<line x1="417.60" y1="245.00" x2="418.80" y2="245.00" stroke="#000" stroke-width="1.2" stroke-linecap="butt"/>
<line x1="428.50" y1="245.00" x2="430.50" y2="245.00" stroke="#000" stroke-width="1.0" stroke-linecap="butt"/>
<rect x="421.82" y="241.41" width="4.37" height="7.18" fill="#000" stroke="#000" stroke-width="1.0"/>
<text transform="translate(432.50,248.50) scale(0.9364,1)" font-size="9.3" text-anchor="start" fill="#1a1a1a" stroke="#1a1a1a" stroke-width="0.1">anti-FasL</text>
<line x1="417.30" y1="264.00" x2="430.60" y2="264.00" stroke="#000" stroke-width="1.6" stroke-linecap="butt"/>
<polygon points="424.00,260.72 427.55,267.52 420.45,267.52" fill="#000" stroke="#000" stroke-width="1.0" stroke-linejoin="miter"/>
<text transform="translate(432.50,266.90) scale(0.9292,1)" font-size="9.3" text-anchor="start" fill="#1a1a1a" stroke="#1a1a1a" stroke-width="0.1">anti-TRAIL</text>
<line x1="417.50" y1="282.50" x2="420.60" y2="282.50" stroke="#000" stroke-width="1.6" stroke-linecap="butt"/>
<line x1="429.50" y1="282.50" x2="430.50" y2="282.50" stroke="#000" stroke-width="1.0" stroke-linecap="butt"/>
<polygon points="424.00,278.98 426.73,282.50 424.00,286.02 421.27,282.50" fill="#fff" stroke="#555" stroke-width="1"/>
<text transform="translate(432.50,285.30) scale(0.9484,1)" font-size="9.3" text-anchor="start" fill="#1a1a1a" stroke="#1a1a1a" stroke-width="0.1">anti-IFN-&#945;</text>
<line x1="416.00" y1="302.00" x2="431.00" y2="302.00" stroke="#aaa" stroke-width="1.2" stroke-linecap="butt"/>
<polygon points="423.80,299.00 427.10,304.70 420.50,304.70" fill="#fff" stroke="#888" stroke-width="1" stroke-linejoin="miter"/>
<text transform="translate(432.50,305.00) scale(0.9571,1)" font-size="9.3" text-anchor="start" fill="#1a1a1a" stroke="#1a1a1a" stroke-width="0.1">anti-TRAIL+anti-IFN-&#945;</text>
<text transform="translate(0.60,375.80) scale(0.9300,1)" font-size="15.0" font-weight="bold" text-anchor="start" fill="#111" stroke="#111" stroke-width="0.35">D</text>
<line x1="54.80" y1="366.60" x2="54.80" y2="524.90" stroke="#868686" stroke-width="1.7" stroke-linecap="butt"/>
<line x1="52.80" y1="524.30" x2="54.80" y2="524.30" stroke="#868686" stroke-width="1" stroke-linecap="butt"/>
<line x1="52.80" y1="492.90" x2="54.80" y2="492.90" stroke="#868686" stroke-width="1" stroke-linecap="butt"/>
<line x1="52.80" y1="461.50" x2="54.80" y2="461.50" stroke="#868686" stroke-width="1" stroke-linecap="butt"/>
<line x1="52.80" y1="430.10" x2="54.80" y2="430.10" stroke="#868686" stroke-width="1" stroke-linecap="butt"/>
<line x1="52.80" y1="398.70" x2="54.80" y2="398.70" stroke="#868686" stroke-width="1" stroke-linecap="butt"/>
<line x1="52.80" y1="367.30" x2="54.80" y2="367.30" stroke="#868686" stroke-width="1" stroke-linecap="butt"/>
<text transform="translate(51.00,495.70) scale(0.8150,1)" font-size="10.6" font-weight="bold" text-anchor="end" fill="#111" stroke="#111" stroke-width="0.1">10</text>
<text transform="translate(51.00,464.30) scale(0.8150,1)" font-size="10.6" font-weight="bold" text-anchor="end" fill="#111" stroke="#111" stroke-width="0.1">20</text>
<text transform="translate(51.00,432.90) scale(0.8150,1)" font-size="10.6" font-weight="bold" text-anchor="end" fill="#111" stroke="#111" stroke-width="0.1">30</text>
<text transform="translate(51.00,401.50) scale(0.8150,1)" font-size="10.6" font-weight="bold" text-anchor="end" fill="#111" stroke="#111" stroke-width="0.1">40</text>
<text transform="translate(51.00,370.10) scale(0.8150,1)" font-size="10.6" font-weight="bold" text-anchor="end" fill="#111" stroke="#111" stroke-width="0.1">50</text>
<line x1="54.00" y1="524.30" x2="380.00" y2="524.30" stroke="#6a6a6a" stroke-width="1.3" stroke-linecap="butt"/>
<line x1="54.80" y1="524.30" x2="54.80" y2="526.60" stroke="#6a6a6a" stroke-width="1" stroke-linecap="butt"/>
<line x1="88.00" y1="524.30" x2="88.00" y2="526.60" stroke="#6a6a6a" stroke-width="1" stroke-linecap="butt"/>
<line x1="120.37" y1="524.30" x2="120.37" y2="526.60" stroke="#6a6a6a" stroke-width="1" stroke-linecap="butt"/>
<line x1="152.74" y1="524.30" x2="152.74" y2="526.60" stroke="#6a6a6a" stroke-width="1" stroke-linecap="butt"/>
<line x1="185.11" y1="524.30" x2="185.11" y2="526.60" stroke="#6a6a6a" stroke-width="1" stroke-linecap="butt"/>
<line x1="217.48" y1="524.30" x2="217.48" y2="526.60" stroke="#6a6a6a" stroke-width="1" stroke-linecap="butt"/>
<line x1="249.85" y1="524.30" x2="249.85" y2="526.60" stroke="#6a6a6a" stroke-width="1" stroke-linecap="butt"/>
<line x1="282.22" y1="524.30" x2="282.22" y2="526.60" stroke="#6a6a6a" stroke-width="1" stroke-linecap="butt"/>
<line x1="314.59" y1="524.30" x2="314.59" y2="526.60" stroke="#6a6a6a" stroke-width="1" stroke-linecap="butt"/>
<line x1="346.96" y1="524.30" x2="346.96" y2="526.60" stroke="#6a6a6a" stroke-width="1" stroke-linecap="butt"/>
<line x1="379.33" y1="524.30" x2="379.33" y2="526.60" stroke="#6a6a6a" stroke-width="1" stroke-linecap="butt"/>
<defs><pattern id="hatch" patternUnits="userSpaceOnUse" width="7.6" height="7.6"><rect width="7.6" height="7.6" fill="#fff"/><path d="M-2,9.6 L9.6,-2 M-2,2 L2,-2 M5.6,9.6 L9.6,5.6" stroke="#000" stroke-width="2.6"/></pattern></defs>
<rect x="60.90" y="452.08" width="7.25" height="72.22" fill="#000" stroke="#444" stroke-width="0.7"/>
<rect x="68.15" y="490.39" width="7.25" height="33.91" fill="#c2c2c2" stroke="#444" stroke-width="0.7"/>
<rect x="75.40" y="481.28" width="7.25" height="43.02" fill="url(#hatch)" stroke="#444" stroke-width="0.7"/>
<line x1="96.89" y1="406.55" x2="96.89" y2="403.72" stroke="#222" stroke-width="0.8" stroke-linecap="butt"/>
<line x1="95.09" y1="403.72" x2="98.69" y2="403.72" stroke="#222" stroke-width="0.8" stroke-linecap="butt"/>
<rect x="93.27" y="406.55" width="7.25" height="117.75" fill="#000" stroke="#444" stroke-width="0.7"/>
<line x1="104.14" y1="473.12" x2="104.14" y2="470.61" stroke="#222" stroke-width="0.8" stroke-linecap="butt"/>
<line x1="102.34" y1="470.61" x2="105.94" y2="470.61" stroke="#222" stroke-width="0.8" stroke-linecap="butt"/>
<rect x="100.52" y="473.12" width="7.25" height="51.18" fill="#c2c2c2" stroke="#444" stroke-width="0.7"/>
<line x1="111.39" y1="487.25" x2="111.39" y2="485.36" stroke="#222" stroke-width="0.8" stroke-linecap="butt"/>
<line x1="109.59" y1="485.36" x2="113.19" y2="485.36" stroke="#222" stroke-width="0.8" stroke-linecap="butt"/>
<rect x="107.77" y="487.25" width="7.25" height="37.05" fill="url(#hatch)" stroke="#444" stroke-width="0.7"/>
<line x1="129.26" y1="486.31" x2="129.26" y2="483.48" stroke="#222" stroke-width="0.8" stroke-linecap="butt"/>
<line x1="127.46" y1="483.48" x2="131.06" y2="483.48" stroke="#222" stroke-width="0.8" stroke-linecap="butt"/>
<rect x="125.64" y="486.31" width="7.25" height="37.99" fill="#000" stroke="#444" stroke-width="0.7"/>
<rect x="132.89" y="500.12" width="7.25" height="24.18" fill="#c2c2c2" stroke="#444" stroke-width="0.7"/>
<line x1="143.76" y1="485.99" x2="143.76" y2="481.28" stroke="#222" stroke-width="0.8" stroke-linecap="butt"/>
<line x1="141.96" y1="481.28" x2="145.56" y2="481.28" stroke="#222" stroke-width="0.8" stroke-linecap="butt"/>
<rect x="140.14" y="485.99" width="7.25" height="38.31" fill="url(#hatch)" stroke="#444" stroke-width="0.7"/>
<rect x="158.01" y="409.69" width="7.25" height="114.61" fill="#000" stroke="#444" stroke-width="0.7"/>
<line x1="168.88" y1="469.66" x2="168.88" y2="464.95" stroke="#222" stroke-width="0.8" stroke-linecap="butt"/>
<line x1="167.08" y1="464.95" x2="170.68" y2="464.95" stroke="#222" stroke-width="0.8" stroke-linecap="butt"/>
<rect x="165.26" y="469.66" width="7.25" height="54.64" fill="#c2c2c2" stroke="#444" stroke-width="0.7"/>
<line x1="176.13" y1="499.49" x2="176.13" y2="497.61" stroke="#222" stroke-width="0.8" stroke-linecap="butt"/>
<line x1="174.33" y1="497.61" x2="177.93" y2="497.61" stroke="#222" stroke-width="0.8" stroke-linecap="butt"/>
<rect x="172.51" y="499.49" width="7.25" height="24.81" fill="url(#hatch)" stroke="#444" stroke-width="0.7"/>
<rect x="190.38" y="396.82" width="7.25" height="127.48" fill="#000" stroke="#444" stroke-width="0.7"/>
<rect x="197.63" y="472.18" width="7.25" height="52.12" fill="#c2c2c2" stroke="#444" stroke-width="0.7"/>
<line x1="208.50" y1="480.97" x2="208.50" y2="477.51" stroke="#222" stroke-width="0.8" stroke-linecap="butt"/>
<line x1="206.70" y1="477.51" x2="210.30" y2="477.51" stroke="#222" stroke-width="0.8" stroke-linecap="butt"/>
<rect x="204.88" y="480.97" width="7.25" height="43.33" fill="url(#hatch)" stroke="#444" stroke-width="0.7"/>
<line x1="226.37" y1="459.30" x2="226.37" y2="456.79" stroke="#222" stroke-width="0.8" stroke-linecap="butt"/>
<line x1="224.57" y1="456.79" x2="228.17" y2="456.79" stroke="#222" stroke-width="0.8" stroke-linecap="butt"/>
<rect x="222.75" y="459.30" width="7.25" height="65.00" fill="#000" stroke="#444" stroke-width="0.7"/>
<line x1="233.62" y1="499.49" x2="233.62" y2="497.61" stroke="#222" stroke-width="0.8" stroke-linecap="butt"/>
<line x1="231.82" y1="497.61" x2="235.42" y2="497.61" stroke="#222" stroke-width="0.8" stroke-linecap="butt"/>
<rect x="230.00" y="499.49" width="7.25" height="24.81" fill="#c2c2c2" stroke="#444" stroke-width="0.7"/>
<line x1="240.87" y1="484.74" x2="240.87" y2="483.79" stroke="#222" stroke-width="0.8" stroke-linecap="butt"/>
<line x1="239.07" y1="483.79" x2="242.67" y2="483.79" stroke="#222" stroke-width="0.8" stroke-linecap="butt"/>
<rect x="237.25" y="484.74" width="7.25" height="39.56" fill="url(#hatch)" stroke="#444" stroke-width="0.7"/>
<line x1="258.75" y1="448.94" x2="258.75" y2="440.78" stroke="#222" stroke-width="0.8" stroke-linecap="butt"/>
<line x1="256.94" y1="440.78" x2="260.55" y2="440.78" stroke="#222" stroke-width="0.8" stroke-linecap="butt"/>
<rect x="255.12" y="448.94" width="7.25" height="75.36" fill="#000" stroke="#444" stroke-width="0.7"/>
<rect x="262.37" y="502.01" width="7.25" height="22.29" fill="#c2c2c2" stroke="#444" stroke-width="0.7"/>
<line x1="273.25" y1="489.76" x2="273.25" y2="488.82" stroke="#222" stroke-width="0.8" stroke-linecap="butt"/>
<line x1="271.44" y1="488.82" x2="275.05" y2="488.82" stroke="#222" stroke-width="0.8" stroke-linecap="butt"/>
<rect x="269.62" y="489.76" width="7.25" height="34.54" fill="url(#hatch)" stroke="#444" stroke-width="0.7"/>
<line x1="291.12" y1="412.52" x2="291.12" y2="408.75" stroke="#222" stroke-width="0.8" stroke-linecap="butt"/>
<line x1="289.31" y1="408.75" x2="292.92" y2="408.75" stroke="#222" stroke-width="0.8" stroke-linecap="butt"/>
<rect x="287.49" y="412.52" width="7.25" height="111.78" fill="#000" stroke="#444" stroke-width="0.7"/>
<line x1="298.37" y1="479.08" x2="298.37" y2="476.26" stroke="#222" stroke-width="0.8" stroke-linecap="butt"/>
<line x1="296.56" y1="476.26" x2="300.17" y2="476.26" stroke="#222" stroke-width="0.8" stroke-linecap="butt"/>
<rect x="294.74" y="479.08" width="7.25" height="45.22" fill="#c2c2c2" stroke="#444" stroke-width="0.7"/>
<line x1="305.62" y1="485.36" x2="305.62" y2="482.22" stroke="#222" stroke-width="0.8" stroke-linecap="butt"/>
<line x1="303.81" y1="482.22" x2="307.42" y2="482.22" stroke="#222" stroke-width="0.8" stroke-linecap="butt"/>
<rect x="301.99" y="485.36" width="7.25" height="38.94" fill="url(#hatch)" stroke="#444" stroke-width="0.7"/>
<line x1="323.49" y1="415.97" x2="323.49" y2="408.75" stroke="#222" stroke-width="0.8" stroke-linecap="butt"/>
<line x1="321.69" y1="408.75" x2="325.29" y2="408.75" stroke="#222" stroke-width="0.8" stroke-linecap="butt"/>
<rect x="319.86" y="415.97" width="7.25" height="108.33" fill="#000" stroke="#444" stroke-width="0.7"/>
<line x1="330.74" y1="478.14" x2="330.74" y2="477.20" stroke="#222" stroke-width="0.8" stroke-linecap="butt"/>
<line x1="328.94" y1="477.20" x2="332.54" y2="477.20" stroke="#222" stroke-width="0.8" stroke-linecap="butt"/>
<rect x="327.11" y="478.14" width="7.25" height="46.16" fill="#c2c2c2" stroke="#444" stroke-width="0.7"/>
<line x1="337.99" y1="483.48" x2="337.99" y2="482.54" stroke="#222" stroke-width="0.8" stroke-linecap="butt"/>
<line x1="336.19" y1="482.54" x2="339.79" y2="482.54" stroke="#222" stroke-width="0.8" stroke-linecap="butt"/>
<rect x="334.36" y="483.48" width="7.25" height="40.82" fill="url(#hatch)" stroke="#444" stroke-width="0.7"/>
<line x1="355.86" y1="401.84" x2="355.86" y2="392.11" stroke="#222" stroke-width="0.8" stroke-linecap="butt"/>
<line x1="354.06" y1="392.11" x2="357.66" y2="392.11" stroke="#222" stroke-width="0.8" stroke-linecap="butt"/>
<rect x="352.23" y="401.84" width="7.25" height="122.46" fill="#000" stroke="#444" stroke-width="0.7"/>
<line x1="363.11" y1="478.77" x2="363.11" y2="477.20" stroke="#222" stroke-width="0.8" stroke-linecap="butt"/>
<line x1="361.31" y1="477.20" x2="364.91" y2="477.20" stroke="#222" stroke-width="0.8" stroke-linecap="butt"/>
<rect x="359.48" y="478.77" width="7.25" height="45.53" fill="#c2c2c2" stroke="#444" stroke-width="0.7"/>
<line x1="370.36" y1="486.62" x2="370.36" y2="485.68" stroke="#222" stroke-width="0.8" stroke-linecap="butt"/>
<line x1="368.56" y1="485.68" x2="372.16" y2="485.68" stroke="#222" stroke-width="0.8" stroke-linecap="butt"/>
<rect x="366.73" y="486.62" width="7.25" height="37.68" fill="url(#hatch)" stroke="#444" stroke-width="0.7"/>
<rect x="368.3" y="374.3" width="7" height="6" fill="#000" stroke="#333" stroke-width="0.8"/>
<text transform="translate(379.00,380.80) scale(0.9332,1)" font-size="10.4" text-anchor="start" fill="#1a1a1a" stroke="#1a1a1a" stroke-width="0.1">HIV-1 viremic</text>
<rect x="368.3" y="391" width="7" height="6" fill="#c2c2c2" stroke="#333" stroke-width="0.8"/>
<text transform="translate(379.00,397.50) scale(0.9338,1)" font-size="10.4" text-anchor="start" fill="#1a1a1a" stroke="#1a1a1a" stroke-width="0.1">Non-viremic</text>
<rect x="368.3" y="407.3" width="7" height="6" fill="#fff" stroke="#333" stroke-width="0.8"/><polygon points="368.3,413.3 375.3,407.3 375.3,409.8 370.8,413.3" fill="#000"/>
<text transform="translate(379.00,413.80) scale(0.9256,1)" font-size="10.4" text-anchor="start" fill="#1a1a1a" stroke="#1a1a1a" stroke-width="0.1">Healthy control</text>
<text transform="translate(35.80,525.00) rotate(-90) scale(0.9650,1)" font-size="10.2" font-weight="bold" text-anchor="start" fill="#111" stroke="#111" stroke-width="0.1">% of Annexin V<tspan font-size="6.2" dy="-3.6">+</tspan><tspan dy="3.6">7AAD</tspan><tspan font-size="6.2" dy="-3.6">-</tspan><tspan dy="3.6">CD4</tspan><tspan font-size="6.2" dy="-3.6">+</tspan><tspan dy="3.6"> T cells</tspan></text>
<text transform="translate(84.05,530.80) rotate(-53) scale(0.9650,1)" font-size="10.1" text-anchor="end" fill="#1a1a1a" stroke="#1a1a1a" stroke-width="0.1">Pre-culture</text>
<text transform="translate(119.55,530.80) rotate(-53) scale(0.9650,1)" font-size="10.1" text-anchor="end" fill="#1a1a1a" stroke="#1a1a1a" stroke-width="0.1">PBMCs</text>
<text transform="translate(152.55,531.30) rotate(-53) scale(0.9650,1)" font-size="10.1" text-anchor="end" fill="#1a1a1a" stroke="#1a1a1a" stroke-width="0.1">pDC-depleted PBMCs</text>
<text transform="translate(187.55,531.30) rotate(-53) scale(0.9650,1)" font-size="10.1" text-anchor="end" fill="#1a1a1a" stroke="#1a1a1a" stroke-width="0.1">CD14-depleted PBMCs</text>
<text transform="translate(220.05,531.30) rotate(-53) scale(0.9650,1)" font-size="10.1" text-anchor="end" fill="#1a1a1a" stroke="#1a1a1a" stroke-width="0.1">CD8-depleted PBMCs</text>
<text transform="translate(252.55,530.80) rotate(-53) scale(0.9650,1)" font-size="10.1" text-anchor="end" fill="#1a1a1a" stroke="#1a1a1a" stroke-width="0.1">PBMCs + anti-TRAIL</text>
<text transform="translate(285.05,530.80) rotate(-53) scale(0.9650,1)" font-size="10.1" text-anchor="end" fill="#1a1a1a" stroke="#1a1a1a" stroke-width="0.1">PBMCs + anti-IFN-&#945;</text>
<text transform="translate(319.55,530.80) rotate(-53) scale(0.9650,1)" font-size="10.1" text-anchor="end" fill="#1a1a1a" stroke="#1a1a1a" stroke-width="0.1">PBMCs + anti-FasL</text>
<text transform="translate(348.05,529.50) rotate(-53) scale(0.9650,1)" font-size="10.1" text-anchor="end" fill="#1a1a1a" stroke="#1a1a1a" stroke-width="0.1">PBMCs + Isotype</text>
<text transform="translate(380.15,529.00) rotate(-53) scale(0.9650,1)" font-size="10.1" text-anchor="end" fill="#1a1a1a" stroke="#1a1a1a" stroke-width="0.1">PBMCs + ConcanamycinA</text>
</svg>
</body></html>
